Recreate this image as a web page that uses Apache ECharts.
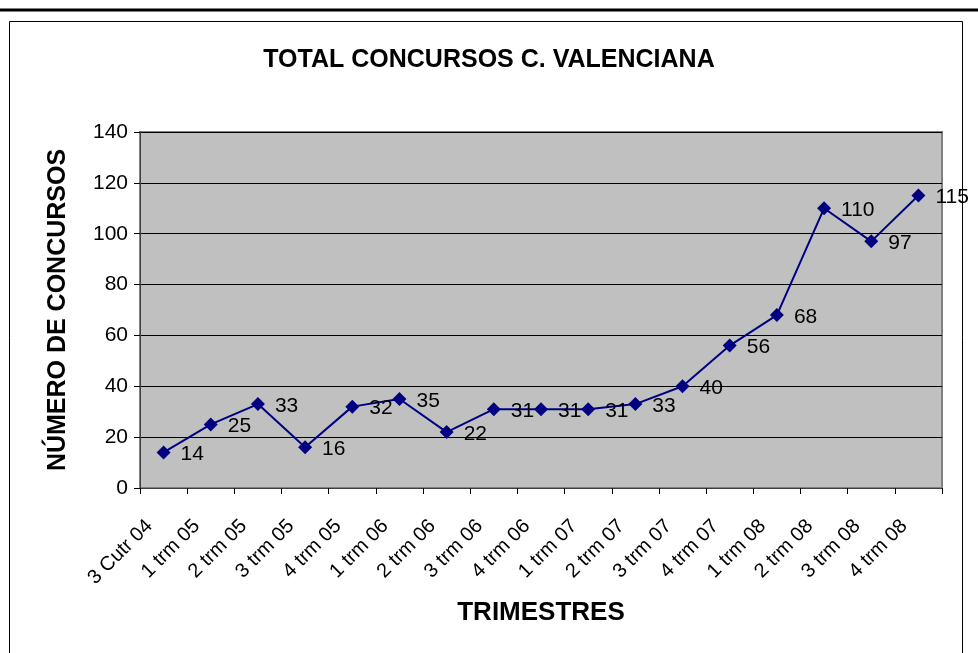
<!DOCTYPE html>
<html><head><meta charset="utf-8">
<script src="https://cdn.jsdelivr.net/npm/echarts@6/dist/echarts.min.js"></script>
<style>html,body{margin:0;padding:0;background:#fff}#c{width:978px;height:653px}</style>
</head><body><div id="c"></div>
<script>
const categories = ['3 Cutr 04','1 trm 05','2 trm 05','3 trm 05','4 trm 05','1 trm 06','2 trm 06','3 trm 06','4 trm 06','1 trm 07','2 trm 07','3 trm 07','4 trm 07','1 trm 08','2 trm 08','3 trm 08','4 trm 08'];
const concursos = [14,25,33,16,32,35,22,31,31,31,33,40,56,68,110,97,115];
const yTicks = [0,20,40,60,80,100,120,140];
const titleText = 'TOTAL CONCURSOS C. VALENCIANA';
const xName = 'TRIMESTRES';
const yName = 'NÚMERO DE CONCURSOS';

const chart = echarts.init(document.getElementById('c'));
chart.setOption({
  animation: false,
  backgroundColor: '#fff',
  textStyle: {fontFamily: 'Liberation Sans, Arial, sans-serif'},
  title: {text: titleText, left: 'center', top: 43,
    textStyle: {fontSize: 25, fontWeight: 'bold', color: '#000', fontFamily: 'Liberation Sans, Arial, sans-serif'}},
  graphic: [
    {type: 'line', shape: {x1: 0, y1: 10, x2: 978, y2: 10}, style: {stroke: '#000', lineWidth: 3}},
    {type: 'rect', shape: {x: 9.5, y: 21.5, width: 953, height: 660}, style: {fill: 'none', stroke: '#000', lineWidth: 1}}
  ],
  grid: {left: 140, right: 36, top: 132, bottom: 165, show: true, backgroundColor: '#c0c0c0', borderColor: '#808080', borderWidth: 2},
  xAxis: {
    type: 'category', data: categories, boundaryGap: true,
    name: xName, nameLocation: 'middle', nameGap: 112,
    nameTextStyle: {fontSize: 26, fontWeight: 'bold', color: '#000'},
    axisLine: {lineStyle: {color: '#404040', width: 1}},
    axisTick: {show: true, alignWithLabel: false, length: 6, lineStyle: {color: '#000'}},
    axisLabel: {rotate: 45, fontSize: 20, color: '#000', interval: 0, margin: 35, verticalAlign: 'bottom', padding: [0, 10, 0, 0]}
  },
  yAxis: {
    type: 'value', min: yTicks[0], max: yTicks[yTicks.length-1], interval: 20,
    name: yName, nameLocation: 'middle', nameGap: 69, nameRotate: 90,
    nameTextStyle: {fontSize: 25, fontWeight: 'bold', color: '#000'},
    axisLine: {show: true, lineStyle: {color: '#404040', width: 1}},
    axisTick: {show: true, length: 6, lineStyle: {color: '#000'}},
    axisLabel: {fontSize: 21, color: '#000', margin: 12},
    splitLine: {show: true, lineStyle: {color: '#000', width: 1}}
  },
  series: [{
    type: 'line', data: concursos,
    symbol: 'diamond', symbolSize: 14,
    lineStyle: {color: '#000080', width: 2},
    itemStyle: {color: '#000080'},
    label: {show: true, position: 'right', distance: 10, fontSize: 21, color: '#000', offset: [0, 2]}
  }]
});
</script></body></html>
